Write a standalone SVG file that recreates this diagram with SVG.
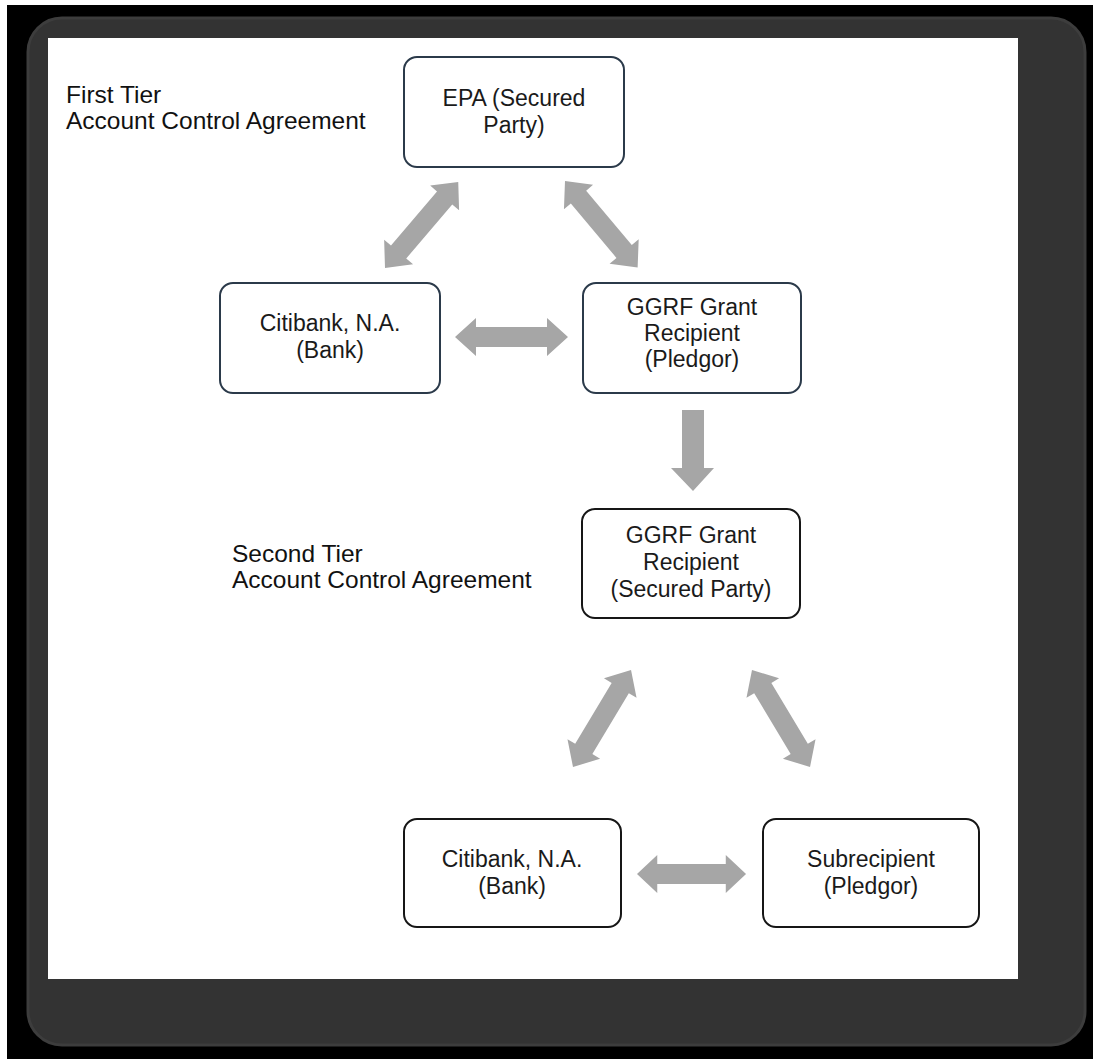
<svg xmlns="http://www.w3.org/2000/svg" xmlns:xlink="http://www.w3.org/1999/xlink" width="1093" height="1059" viewBox="0 0 1093 1059">
<style>
.box1{fill:#fff;stroke:#2b3a4a;stroke-width:2}
.box2{fill:#fff;stroke:#161616;stroke-width:2}
.t{font-family:"Liberation Sans",Arial,sans-serif;font-size:23px;fill:#1a1a1a;text-anchor:middle}
.lbl{font-family:"Liberation Sans",Arial,sans-serif;font-size:24.5px;fill:#111}
.arr{fill:#a6a6a6}
</style>
<defs>
<path id="dbl" d="M0,0 L21,-19 L21,-10 L92,-10 L92,-19 L113,0 L92,19 L92,10 L21,10 L21,19 Z"/>
</defs>
<rect x="0" y="0" width="1093" height="1059" fill="#fff"/>
<rect x="7" y="5" width="1086" height="1054" fill="#000"/>
<rect x="28" y="18" width="1057" height="1027" rx="34" fill="#333"/>
<rect x="28" y="18" width="1057" height="1027" rx="34" fill="none" stroke="#3d3d3d" stroke-width="3"/>
<rect x="48" y="38" width="970" height="941" fill="#fff"/>

<g id="label-first">
<text class="lbl" x="66" y="103">First Tier</text>
<text class="lbl" x="66" y="129">Account Control Agreement</text>
</g>
<g id="label-second">
<text class="lbl" x="232" y="562">Second Tier</text>
<text class="lbl" x="232" y="588">Account Control Agreement</text>
</g>

<g id="connectors" class="arr">
<use xlink:href="#dbl" transform="translate(385,268) rotate(-49.6)"/>
<use xlink:href="#dbl" transform="translate(565,181) rotate(50)"/>
<use xlink:href="#dbl" transform="translate(455,337)"/>
<path d="M682,410 L704,410 L704,468 L714,468 L693,491 L671,468 L682,468 Z"/>
<use xlink:href="#dbl" transform="translate(573,767) rotate(-59.1)"/>
<use xlink:href="#dbl" transform="translate(752,670) rotate(59.1)"/>
<use xlink:href="#dbl" transform="translate(637,874) scale(0.965,1)"/>
</g>

<g id="epa">
<rect class="box1" x="404" y="57" width="220" height="110" rx="13"/>
<text class="t" x="514" y="106">EPA (Secured</text>
<text class="t" x="514" y="133">Party)</text>
</g>
<g id="citibank1">
<rect class="box1" x="220" y="283" width="220" height="110" rx="13"/>
<text class="t" x="330" y="331">Citibank, N.A.</text>
<text class="t" x="330" y="358">(Bank)</text>
</g>
<g id="ggrf-pledgor">
<rect class="box1" x="583" y="283" width="218" height="110" rx="13"/>
<text class="t" x="692" y="315">GGRF Grant</text>
<text class="t" x="692" y="341">Recipient</text>
<text class="t" x="692" y="367">(Pledgor)</text>
</g>
<g id="ggrf-secured">
<rect class="box2" x="582" y="509" width="218" height="109" rx="13"/>
<text class="t" x="691" y="543">GGRF Grant</text>
<text class="t" x="691" y="570">Recipient</text>
<text class="t" x="691" y="597">(Secured Party)</text>
</g>
<g id="citibank2">
<rect class="box2" x="404" y="819" width="217" height="108" rx="13"/>
<text class="t" x="512" y="867">Citibank, N.A.</text>
<text class="t" x="512" y="894">(Bank)</text>
</g>
<g id="subrecipient">
<rect class="box2" x="763" y="819" width="216" height="108" rx="13"/>
<text class="t" x="871" y="867">Subrecipient</text>
<text class="t" x="871" y="894">(Pledgor)</text>
</g>
</svg>
